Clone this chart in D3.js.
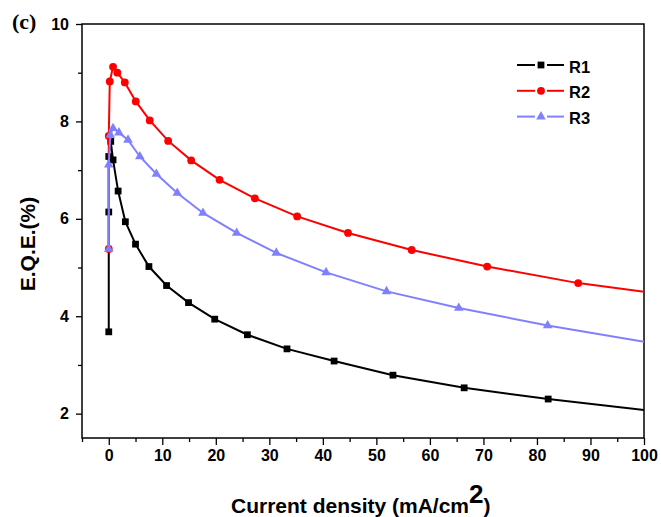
<!DOCTYPE html>
<html>
<head>
<meta charset="utf-8">
<script src="https://cdn.jsdelivr.net/npm/d3@7/dist/d3.min.js"></script>
<style>
  html, body { margin: 0; padding: 0; background: #fff; }
  svg { display: block; }
  text { font-family: "Liberation Sans", Arial, sans-serif; font-weight: bold; fill: #000; }
</style>
</head>
<body>
<svg id="chart" width="661" height="517"></svg>
<script>
// ---- data ----
const seriesNames = ["R1", "R2", "R3"];
const r1X = [0, 0, 0, 0.37, 0.8, 1.75, 3.1, 5.0, 7.5, 10.8, 14.9, 19.8, 25.9, 33.3, 42.1, 53.1, 66.4, 82.1, 102];
const r1Y = [3.68, 6.14, 7.28, 7.59, 7.21, 6.57, 5.94, 5.48, 5.02, 4.63, 4.28, 3.94, 3.62, 3.33, 3.08, 2.79, 2.53, 2.30, 2.05];
const r2X = [0, 0, 0.19, 0.8, 1.6, 3.0, 5.05, 7.66, 11.1, 15.4, 20.7, 27.3, 35.2, 44.7, 56.6, 70.7, 87.7, 109];
const r2Y = [5.38, 7.70, 8.82, 9.12, 9.00, 8.80, 8.41, 8.02, 7.60, 7.20, 6.80, 6.42, 6.05, 5.71, 5.36, 5.02, 4.68, 4.37];
const r3X = [0, 0, 0.3, 0.8, 1.9, 3.6, 5.8, 8.9, 12.8, 17.6, 23.9, 31.3, 40.6, 51.9, 65.4, 82.0, 102.5];
const r3Y = [5.38, 7.11, 7.72, 7.86, 7.77, 7.62, 7.28, 6.92, 6.53, 6.12, 5.71, 5.30, 4.90, 4.51, 4.17, 3.81, 3.43];
const xTicks = [0, 10, 20, 30, 40, 50, 60, 70, 80, 90, 100];
const xMinorTicks = [-5, 5, 15, 25, 35, 45, 55, 65, 75, 85, 95];
const yTicks = [2, 4, 6, 8, 10];
const yMinorTicks = [3, 5, 7, 9];

const svg = d3.select("#chart");
const L = 82, R = 644, T = 24, B = 438;
const x = d3.scaleLinear().domain([-5, 100]).range([L, R]);
const y = d3.scaleLinear().domain([1.5, 10]).range([B, T]);

// clip
svg.append("defs").append("clipPath").attr("id", "clip")
  .append("rect").attr("x", L).attr("y", T).attr("width", R - L).attr("height", B - T);

// axes
const xAxis = svg.append("g").attr("transform", `translate(0,${B})`)
  .call(d3.axisBottom(x).tickValues(xTicks).tickSize(7).tickSizeOuter(0).tickPadding(5).tickFormat(d3.format("d")));
const xMinor = svg.append("g").attr("transform", `translate(0,${B})`)
  .call(d3.axisBottom(x).tickValues(xMinorTicks).tickSize(4).tickSizeOuter(0).tickFormat(""));
const yAxis = svg.append("g").attr("transform", `translate(${L},0)`)
  .call(d3.axisLeft(y).tickValues(yTicks).tickSize(6).tickSizeOuter(0).tickPadding(7).tickFormat(d3.format("d")));
const yMinor = svg.append("g").attr("transform", `translate(${L},0)`)
  .call(d3.axisLeft(y).tickValues(yMinorTicks).tickSize(4).tickSizeOuter(0).tickFormat(""));
[xAxis, xMinor, yAxis, yMinor].forEach(g => {
  g.select(".domain").remove();
  g.selectAll("line").attr("stroke", "#000").attr("stroke-width", 1.3);
  g.selectAll("text").style("font-size", "16px").style("font-weight", "bold")
    .style("font-family", '"Liberation Sans", Arial, sans-serif').attr("fill", "#000");
});

// frame
svg.append("rect").attr("x", L).attr("y", T).attr("width", R - L).attr("height", B - T)
  .attr("fill", "none").attr("stroke", "#000").attr("stroke-width", 1.5);

// series
const series = [
  { name: seriesNames[0], xs: r1X, ys: r1Y, color: "#000000", sym: d3.symbolSquare, size: 46 },
  { name: seriesNames[1], xs: r2X, ys: r2Y, color: "#ff0000", sym: d3.symbolCircle, size: 48 },
  { name: seriesNames[2], xs: r3X, ys: r3Y, color: "#8080ff", sym: d3.symbolTriangle, size: 40 }
];
const line = d3.line().x(d => x(d[0])).y(d => y(d[1]));
const plot = svg.append("g").attr("clip-path", "url(#clip)");
series.forEach(s => {
  const pts = s.xs.map((v, i) => [v, s.ys[i]]);
  const g = plot.append("g");
  g.append("path").datum(pts).attr("d", line).attr("fill", "none")
    .attr("stroke", s.color).attr("stroke-width", 2);
  g.selectAll("path.m").data(pts).enter().append("path").attr("class", "m")
    .attr("transform", d => `translate(${x(d[0])},${y(d[1])})`)
    .attr("d", d3.symbol(s.sym, s.size)).attr("fill", s.color);
});

// legend
series.forEach((s, i) => {
  const ly = 65 + i * 25.8;
  const g = svg.append("g");
  g.append("line").attr("x1", 517).attr("x2", 535).attr("y1", ly).attr("y2", ly).attr("stroke", s.color).attr("stroke-width", 2);
  g.append("line").attr("x1", 547).attr("x2", 564).attr("y1", ly).attr("y2", ly).attr("stroke", s.color).attr("stroke-width", 2);
  g.append("path").attr("transform", `translate(541,${ly})`).attr("d", d3.symbol(s.sym, s.size)).attr("fill", s.color);
  g.append("text").attr("x", 569).attr("y", ly + 7.5).style("font-size", "16.5px").text(s.name);
});

// axis titles
svg.append("text").attr("transform", "translate(35,244) rotate(-90)").attr("text-anchor", "middle")
  .style("font-size", "21px").text("E.Q.E.(%)");
const xt = svg.append("text").attr("x", 231).attr("y", 513).style("font-size", "21px");
xt.append("tspan").text("Current density (mA/cm");
xt.append("tspan").attr("dy", -10).style("font-size", "26px").text("2");
xt.append("tspan").attr("dy", 10).text(")");

// panel label
svg.append("text").attr("x", 12).attr("y", 29)
  .style("font-family", '"Liberation Serif", "Times New Roman", serif').style("font-size", "22px").text("(c)");
</script>
</body>
</html>
